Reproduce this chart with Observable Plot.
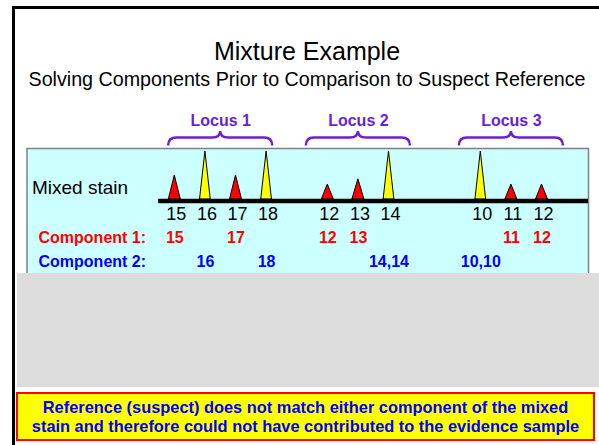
<!DOCTYPE html>
<html><head><meta charset="utf-8">
<script src="https://cdn.jsdelivr.net/npm/d3@7"></script>
<script src="https://cdn.jsdelivr.net/npm/@observablehq/plot@0.6"></script>
<style>
body{margin:0;background:#fff;}
#page{position:relative;width:599px;height:445px;overflow:hidden;font-family:"Liberation Sans",Arial,sans-serif;background:#fff;}
.bt{position:absolute;left:12px;top:6px;width:587px;height:3px;background:#000;z-index:5}
.bl{position:absolute;left:12px;top:6px;width:3px;height:439px;background:#000;z-index:5}
#title{position:absolute;left:15px;width:584px;top:38.8px;font-size:25px;line-height:25px;text-align:center;white-space:nowrap;}
#subtitle{position:absolute;left:15px;width:584px;top:69.3px;font-size:19.7px;line-height:20px;text-align:center;white-space:nowrap;}
#chart{position:absolute;left:0;top:100px;z-index:1}
#gray{position:absolute;left:17px;top:273px;width:582px;height:114px;background:#dcdcdc;z-index:3}
#note{position:absolute;left:16px;top:392px;width:579px;height:49px;box-sizing:border-box;border:2px solid #f00;background:#ff0;color:#0000ff;font-weight:bold;font-size:16.4px;line-height:19.3px;text-align:center;padding-top:4px;z-index:4;white-space:nowrap;}
</style></head>
<body>
<div id="page">
  <div class="bt"></div><div class="bl"></div>
  <div id="title">Mixture Example</div>
  <div id="subtitle">Solving Components Prior to Comparison to Suspect Reference</div>
  <div id="chart"></div>
  <div id="gray"></div>
  <div id="note">Reference (suspect) does not match either component of the mixed<br>stain and therefore could not have contributed to the evidence sample</div>
</div>
<script>
// ---- data ----
const loci = ["Locus 1", "Locus 2", "Locus 3"];
const locus1Alleles = [15, 16, 17, 18];
const locus2Alleles = [12, 13, 14];
const locus3Alleles = [10, 11, 12];
const locus1Heights = [50, 100, 50, 100];
const locus2Heights = [31, 42, 100];
const locus3Heights = [100, 31, 31];
const component1 = [[15, 17], [12, 13], [11, 12]];
const component2 = [[16, 18], [14, 14], [10, 10]];
const rowLabels = ["Mixed stain", "Component 1:", "Component 2:"];

// ---- layout helpers ----
const alleleSets = [locus1Alleles, locus2Alleles, locus3Alleles];
const heightSets = [locus1Heights, locus2Heights, locus3Heights];
const locusOffsets = [0, 5, 10];
const slotOf = (i, a) => locusOffsets[i] + alleleSets[i].indexOf(a);
const locusCenter = i => locusOffsets[i] + (alleleSets[i].length - 1) / 2;

const peaks = alleleSets.flatMap((alleles, i) => alleles.map((a, j) => ({
  allele: a, slot: slotOf(i, a), height: heightSets[i][j], minor: component1[i].includes(a)
})));
const tri = peaks.flatMap((p, k) => {
  const w = p.minor ? 0.196 : 0.175;
  return [
    {id: k, minor: p.minor, x: p.slot - w, y: 0},
    {id: k, minor: p.minor, x: p.slot, y: p.height},
    {id: k, minor: p.minor, x: p.slot + w, y: 0}
  ];
});
const comp1Labels = component1.flatMap((g, i) => g.map(a => ({slot: slotOf(i, a), text: String(a)})));
const comp2Labels = component2.flatMap((g, i) => g[0] === g[1]
  ? [{slot: slotOf(i, g[0]), text: g.join(",")}]
  : g.map(a => ({slot: slotOf(i, a), text: String(a)})));
const locusData = loci.map((name, i) => ({name, c: locusCenter(i)}));

const PURPLE = "#6b1fd3";
function braces(index, scales, values, dimensions) {
  const ns = "http://www.w3.org/2000/svg";
  const g = document.createElementNS(ns, "g");
  const top = dimensions.marginTop;
  locusData.forEach(d => {
    const c = scales.x(d.c);
    const h = 52, r = 8, yb = top - 2.5, ym = top - 10.5, yt = top - 17;
    const p = document.createElementNS(ns, "path");
    p.setAttribute("d", `M${c-h},${yb}Q${c-h},${ym} ${c-h+r},${ym}L${c-r},${ym}Q${c},${ym} ${c},${yt}Q${c},${ym} ${c+r},${ym}L${c+h-r},${ym}Q${c+h},${ym} ${c+h},${yb}`);
    p.setAttribute("fill", "none");
    p.setAttribute("stroke", PURPLE);
    p.setAttribute("stroke-width", "2.5");
    g.appendChild(p);
  });
  return g;
}

const chart = Plot.plot({
  width: 599, height: 180,
  marginLeft: 26.5, marginRight: 11, marginTop: 48, marginBottom: 0,
  x: {domain: [-4.83, 13.52], axis: null},
  y: {domain: [-168.75, 106.25], axis: null},
  style: {background: "transparent", fontFamily: "'Liberation Sans', Arial, sans-serif", overflow: "visible"},
  marks: [
    Plot.frame({fill: "#ccffff", stroke: "#808080", strokeWidth: 1.5}),
    Plot.area(tri.filter(d => d.minor), {x1: "x", y1: 0, y2: "y", z: "id", fill: "#ff0000", stroke: "#000", strokeWidth: 1}),
    Plot.area(tri.filter(d => !d.minor), {x1: "x", y1: 0, y2: "y", z: "id", fill: "#ffff00", stroke: "#000", strokeWidth: 1}),
    Plot.ruleY([0], {x1: -0.53, x2: 13.52, stroke: "#000", strokeWidth: 4.5, dy: 1.5}),
    Plot.text(peaks, {x: "slot", y: 0, text: d => String(d.allele), dy: 15, dx: 1.5, fontSize: 18, fill: "#000"}),
    Plot.text([rowLabels[0]], {frameAnchor: "left", y: 0, text: d => d, dy: -11.3, dx: 5, textAnchor: "start", fontSize: 19, fill: "#000"}),
    Plot.text([rowLabels[1]], {frameAnchor: "left", y: 0, text: d => d, dy: 38, dx: 11.5, textAnchor: "start", fontSize: 16, fontWeight: "bold", fill: "#ff0000"}),
    Plot.text([rowLabels[2]], {frameAnchor: "left", y: 0, text: d => d, dy: 62, dx: 11.5, textAnchor: "start", fontSize: 16, fontWeight: "bold", fill: "#0000ff"}),
    Plot.text(comp1Labels, {x: "slot", y: 0, text: "text", dy: 38, fontSize: 16, fontWeight: "bold", fill: "#ff0000"}),
    Plot.text(comp2Labels, {x: "slot", y: 0, text: "text", dy: 62, fontSize: 16, fontWeight: "bold", fill: "#0000ff"}),
    Plot.text(locusData, {x: "c", frameAnchor: "top", text: "name", dy: -33.5, fontSize: 16, fontWeight: "bold", fill: PURPLE}),
    braces
  ]
});
document.getElementById("chart").appendChild(chart);
</script>
</body></html>
